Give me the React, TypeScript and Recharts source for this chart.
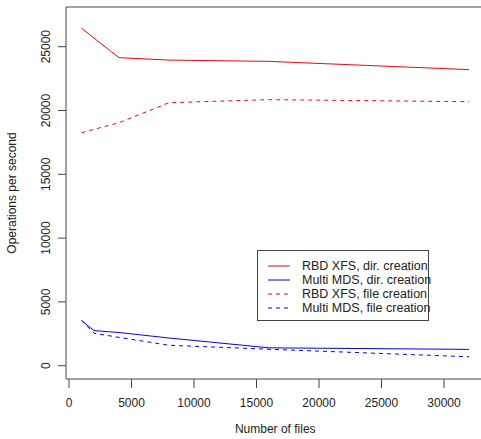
import { LineChart, Line, XAxis, YAxis, ReferenceArea, Legend } from "recharts";

// number of files on the x axis
const rbdFiles = [1000, 4000, 8000, 16000, 32000];
const mdsFiles = [1000, 2000, 4000, 8000, 16000, 32000];

// operations per second
const rbdDirOps = [26440, 24140, 23950, 23850, 23200];
const rbdFileOps = [18260, 19040, 20610, 20850, 20690];
const mdsDirOps = [3550, 2750, 2600, 2170, 1400, 1280];
const mdsFileOps = [3550, 2540, 2220, 1600, 1290, 700];

const xTicks = [0, 5000, 10000, 15000, 20000, 25000, 30000];
const yTicks = [0, 5000, 10000, 15000, 20000, 25000];
const xDomain: [number, number] = [-240, 33240];
const yDomain: [number, number] = [-1042, 28110];

const series = [
  { name: "RBD XFS, dir. creation", x: rbdFiles, y: rbdDirOps, color: "#ff0000", dash: undefined },
  { name: "Multi MDS, dir. creation", x: mdsFiles, y: mdsDirOps, color: "#0000ff", dash: undefined },
  { name: "RBD XFS, file creation", x: rbdFiles, y: rbdFileOps, color: "#ff0000", dash: "4 4" },
  { name: "Multi MDS, file creation", x: mdsFiles, y: mdsFileOps, color: "#0000ff", dash: "4 4" },
];

const FONT = "'Liberation Sans', Arial, sans-serif";
const INK = "#222";
const LINE = "#444";

const YTick = ({ x, y, payload }: any) => (
  <text
    x={x}
    y={y}
    transform={`rotate(-90 ${x} ${y})`}
    textAnchor="middle"
    fontSize={12}
    fontFamily={FONT}
    fill={INK}
  >
    {payload.value}
  </text>
);

const LegendBox = () => (
  <div
    style={{
      border: `1px solid ${LINE}`,
      background: "#fff",
      width: 172,
      height: 71,
      boxSizing: "border-box",
      paddingTop: 8,
      fontFamily: FONT,
      fontSize: 12.5,
      color: INK,
      whiteSpace: "nowrap",
    }}
  >
    {series.map((s) => (
      <div key={s.name} style={{ height: 14, display: "flex", alignItems: "center" }}>
        <svg width={44} height={14} style={{ flex: "none" }}>
          <line x1={10} x2={32} y1={7} y2={7} stroke={s.color} strokeDasharray={s.dash} />
        </svg>
        <span>{s.name}</span>
      </div>
    ))}
  </div>
);

export default function App() {
  return (
    <div style={{ position: "absolute", left: 0, top: 0, width: 481, height: 439, overflow: "hidden", background: "#fff" }}>
      <LineChart width={490} height={439} margin={{ top: 7, right: 5.5, bottom: 0, left: 0 }}>
        <XAxis
          type="number"
          dataKey="x"
          domain={xDomain}
          ticks={xTicks}
          allowDataOverflow
          height={60}
          tickSize={9}
          tickMargin={10}
          axisLine={false}
          tickLine={{ stroke: LINE }}
          tick={{ fill: INK, fontSize: 12, fontFamily: FONT }}
          label={{
            content: ({ viewBox }: any) => (
              <text
                x={viewBox.x + viewBox.width / 2}
                y={viewBox.y + 54}
                textAnchor="middle"
                fontSize={12}
                fontFamily={FONT}
                fill={INK}
              >
                Number of files
              </text>
            ),
          }}
        />
        <YAxis
          type="number"
          dataKey="y"
          domain={yDomain}
          ticks={yTicks}
          allowDataOverflow
          width={66}
          tickSize={8}
          tickMargin={8}
          axisLine={false}
          tickLine={{ stroke: LINE }}
          tick={<YTick />}
          label={{
            content: ({ viewBox }: any) => {
              const cx = viewBox.x + 16;
              const cy = viewBox.y + viewBox.height / 2;
              return (
                <text
                  x={cx}
                  y={cy}
                  transform={`rotate(-90 ${cx} ${cy})`}
                  textAnchor="middle"
                  fontSize={12}
                  fontFamily={FONT}
                  fill={INK}
                >
                  Operations per second
                </text>
              );
            },
          }}
        />
        <ReferenceArea
          x1={xDomain[0]}
          x2={xDomain[1]}
          y1={yDomain[0]}
          y2={yDomain[1]}
          fill="none"
          stroke={LINE}
          strokeWidth={1}
          ifOverflow="visible"
        />
        {series.map((s) => (
          <Line
            key={s.name}
            name={s.name}
            data={s.x.map((x, i) => ({ x, y: s.y[i] }))}
            dataKey="y"
            type="linear"
            stroke={s.color}
            strokeWidth={1}
            strokeDasharray={s.dash}
            dot={false}
            activeDot={false}
            isAnimationActive={false}
          />
        ))}
        <Legend
          layout="vertical"
          align="center"
          verticalAlign="middle"
          content={<LegendBox />}
          wrapperStyle={{ left: 257, top: 250, width: "auto", bottom: "auto" }}
        />
      </LineChart>
    </div>
  );
}
